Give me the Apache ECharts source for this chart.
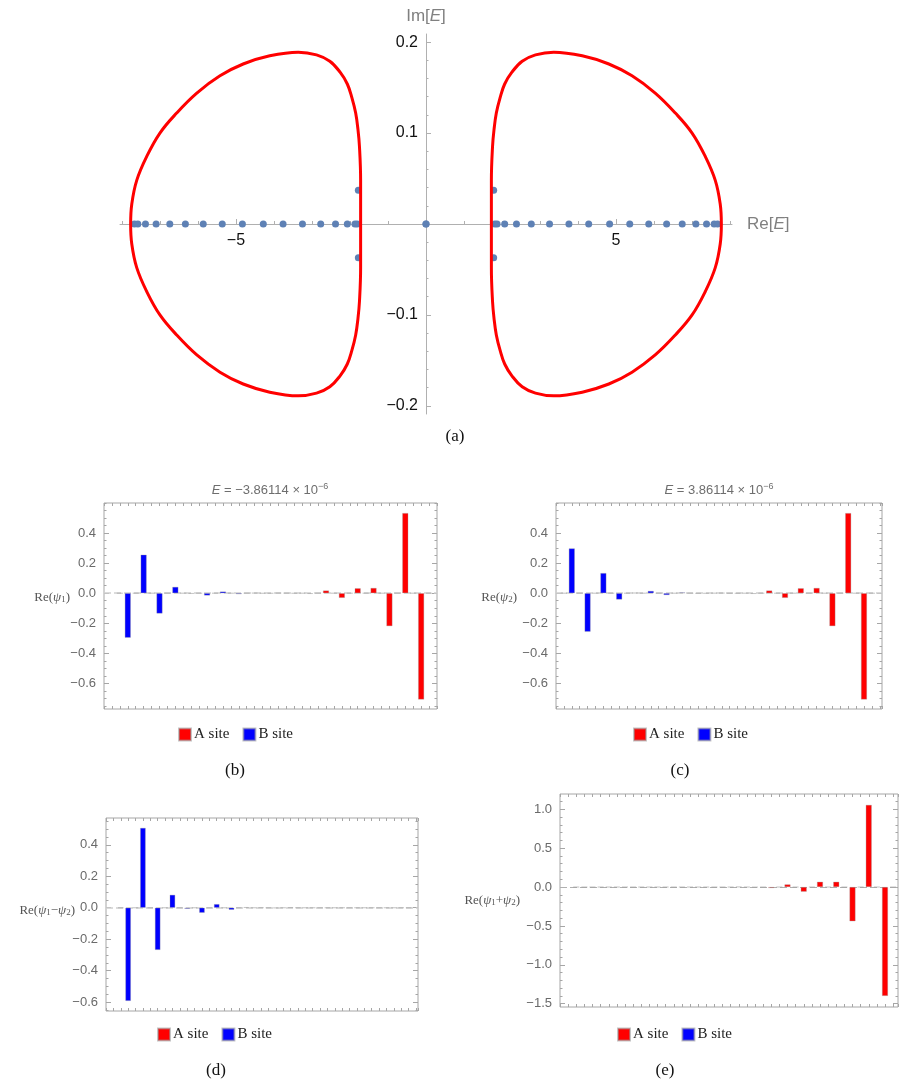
<!DOCTYPE html>
<html>
<head>
<meta charset="utf-8">
<script src="https://cdn.jsdelivr.net/npm/echarts@6/dist/echarts.min.js"></script>
<style>
html,body{margin:0;padding:0;background:#fff;}
#c{width:899px;height:1089px;}
</style>
</head>
<body>
<div id="c"></div>
<script>
// ---------- (a) complex spectrum ----------
// eigenvalues of the open chain: real and imaginary parts
const eigenRe = [-7.67,-7.58,-7.38,-7.10,-6.74,-6.33,-5.86,-5.36,-4.83,-4.28,-3.76,-3.25,-2.77,-2.38,-2.07,-1.87,-1.81,
                 -1.78,-1.78, 0, 0, 1.78, 1.78,
                 1.81,1.87,2.07,2.38,2.77,3.25,3.76,4.28,4.83,5.36,5.86,6.33,6.74,7.10,7.38,7.58,7.67];
const eigenIm = [0,0,0,0,0,0,0,0,0,0,0,0,0,0,0,0,0,
                 0.037,-0.037, 0, 0, 0.037,-0.037,
                 0,0,0,0,0,0,0,0,0,0,0,0,0,0,0,0,0];

// upper halves of the periodic-boundary spectral loops (lower halves are their complex conjugates)
const leftLoopRe  = [-1.72,-1.72,-1.75,-1.79,-1.85,-1.95,-2.07,-2.26,-2.53,-2.88,-3.36,-4.11,-4.81,-5.42,-6.03,-6.56,-7.00,-7.35,-7.61,-7.74,-7.77];
const leftLoopIm  = [0.000,0.048,0.085,0.104,0.122,0.139,0.154,0.167,0.179,0.186,0.189,0.185,0.176,0.163,0.144,0.122,0.100,0.074,0.048,0.022,0.000];
const rightLoopRe = [1.72,1.72,1.75,1.79,1.85,1.95,2.07,2.26,2.53,2.88,3.36,4.11,4.81,5.42,6.03,6.56,7.00,7.35,7.61,7.74,7.77];
const rightLoopIm = [0.000,0.048,0.085,0.104,0.122,0.139,0.154,0.167,0.179,0.186,0.189,0.185,0.176,0.163,0.144,0.122,0.100,0.074,0.048,0.022,0.000];

const ticksRe = [-5, 5];
const ticksIm = [-0.2, -0.1, 0.1, 0.2];

// ---------- (b)-(e) zero-mode amplitudes on unit cells 1..20 ----------
const psi1A = [0,0,0,0,0,0,0,0,0,-0.001,0.002,-0.001,-0.004,0.018,-0.031,0.033,0.035,-0.219,0.533,-0.707];
const psi1B = [-0.296,0.256,-0.135,0.042,-0.003,-0.015,0.011,-0.006,0.002,-0.001,0.001,0,0,0,0,0,0,0,0,0];
const psi2A = [0,0,0,0,0,0,0,0,0,-0.001,0.002,-0.001,-0.004,0.018,-0.031,0.033,0.035,-0.219,0.533,-0.707];
const psi2B = [0.298,-0.256,0.134,-0.042,0.003,0.015,-0.012,0.005,-0.002,0.001,-0.001,0,0,0,0,0,0,0,0,0];
const diffA = [0,0,0,0,0,0,0,0,0,0,0,0,0,0,0,0,0,0,0,0];
const diffB = [-0.592,0.507,-0.268,0.082,-0.006,-0.032,0.023,-0.013,0.003,0.001,-0.002,0.002,0,0,0,0,0,0,0,0];
const sumA  = [0,0,0,0,0,0,0,0,0,0,0.004,-0.002,-0.012,0.034,-0.060,0.068,0.068,-0.440,1.056,-1.400];
const sumB  = [0,0,0,0,0,0,0,0,0,0,0,0,0,0,0,0,0,0,0,0];

const ticksPsi = [-0.6, -0.4, -0.2, 0, 0.2, 0.4];
const ticksSum = [-1.5, -1.0, -0.5, 0, 0.5, 1.0];
const siteNames = ['A site', 'B site'];

// ---------- styling ----------
const SANS = 'Liberation Sans';
const SERIF = 'Liberation Serif';
const FRAME = '#a6a6a6';
const TICK_TEXT = '#6a6a6a';
const RED = '#ff0000';
const BLUE = '#0000ff';
const minus = s => s.replace('-', '\u2212');

function closedLoop(re, im) {
  const pts = re.map((r, i) => [r, im[i]]);
  for (let i = re.length - 2; i >= 0; i--) pts.push([re[i], -im[i]]);
  return pts;
}
function stepValues(min, max, step, skip) {
  const out = [];
  for (let k = Math.ceil(min / step - 1e-9); k * step <= max + 1e-9; k++) {
    const v = +(k * step).toFixed(6);
    if (!skip.some(s => Math.abs(s - v) < 1e-9)) out.push(v);
  }
  return out;
}

const grids = [];
const xAxes = [];
const yAxes = [];
const series = [];
const legends = [];
const graphics = [];

// ---------- panel (a): axes cross at the origin ----------
const aX = [-8.05, 8.05], aY = [-0.209, 0.209];
const aGrid = {left: 120, top: 34, width: 612, height: 380};
// shift the frame-edge axes onto the origin lines
const xShift = -aGrid.height * (0 - aY[0]) / (aY[1] - aY[0]);
const yShift = -aGrid.width * (0 - aX[0]) / (aX[1] - aX[0]);
grids.push(Object.assign({show: false, outerBoundsMode: 'none'}, aGrid));
const axisGray = '#b0b0b0';
xAxes.push({
  type: 'value', gridIndex: 0, min: aX[0], max: aX[1], position: 'bottom', offset: xShift,
  axisLine: {onZero: false, lineStyle: {color: axisGray, width: 1}},
  axisTick: {inside: true, length: 3, customValues: stepValues(-8, 8, 1, [0, -5, 5]), lineStyle: {color: axisGray}},
  axisLabel: {customValues: ticksRe, formatter: v => minus(String(v)), margin: 9,
              fontSize: 16, fontFamily: SANS, color: '#111'},
  splitLine: {show: false},
  name: 'Re[{i|E}]', nameLocation: 'end', nameGap: 15,
  nameTextStyle: {fontSize: 17, fontFamily: SANS, color: '#808080',
                  rich: {i: {fontSize: 17, fontFamily: SANS, color: '#808080', fontStyle: 'italic'}}}
});
xAxes.push({
  type: 'value', gridIndex: 0, min: aX[0], max: aX[1], position: 'bottom', offset: xShift,
  axisLine: {show: false, onZero: false},
  axisTick: {inside: true, length: 5, customValues: ticksRe, lineStyle: {color: axisGray}},
  axisLabel: {show: false}, splitLine: {show: false}
});
yAxes.push({
  type: 'value', gridIndex: 0, min: aY[0], max: aY[1], position: 'left', offset: yShift,
  axisLine: {onZero: false, lineStyle: {color: axisGray, width: 1}},
  axisTick: {inside: true, length: 2.5, customValues: stepValues(-0.2, 0.2, 0.02, [0, -0.2, -0.1, 0.1, 0.2]), lineStyle: {color: axisGray}},
  axisLabel: {customValues: ticksIm, formatter: v => minus(v.toFixed(1)), margin: 8,
              fontSize: 16, fontFamily: SANS, color: '#111'},
  splitLine: {show: false},
  name: 'Im[{i|E}]', nameLocation: 'end', nameGap: 9,
  nameTextStyle: {fontSize: 17, fontFamily: SANS, color: '#808080',
                  rich: {i: {fontSize: 17, fontFamily: SANS, color: '#808080', fontStyle: 'italic'}}}
});
yAxes.push({
  type: 'value', gridIndex: 0, min: aY[0], max: aY[1], position: 'left', offset: yShift,
  axisLine: {show: false, onZero: false},
  axisTick: {inside: true, length: 5, customValues: ticksIm, lineStyle: {color: axisGray}},
  axisLabel: {show: false}, splitLine: {show: false}
});
series.push({
  type: 'scatter', xAxisIndex: 0, yAxisIndex: 0, symbolSize: 7, z: 2,
  itemStyle: {color: '#5e81b5', opacity: 1},
  data: eigenRe.map((r, i) => [r, eigenIm[i]])
});
[closedLoop(leftLoopRe, leftLoopIm), closedLoop(rightLoopRe, rightLoopIm)].forEach(loop => {
  series.push({
    type: 'line', xAxisIndex: 0, yAxisIndex: 0, data: loop, smooth: 0.4, showSymbol: false, z: 3,
    lineStyle: {color: RED, width: 3}, silent: true
  });
});
graphics.push({type: 'text', x: 455, y: 437, style: {text: '(a)', font: '17px ' + SERIF, fill: '#111', align: 'center', verticalAlign: 'middle'}});

// ---------- panels (b)-(e) ----------
const panels = [
  {grid: {left: 104, top: 503, width: 333, height: 206}, x: [-1, 41], y: [-0.77, 0.60],
   majors: ticksPsi, minorStep: 0.05, A: psi1A, B: psi1B, barWidth: 6,
   title: {x: 270, y: 490, text: '{i|E} = \u22123.86114 \u00d7 10{s|\u22126}'},
   ylabel: {x: 70, y: 598, sub: '1'}, legend: {left: 178, top: 727}, caption: {x: 235, y: 771, text: '(b)'},
   zero: {color: '#cfcfcf', width: 1.6}},
  {grid: {left: 556, top: 503, width: 326, height: 206}, x: [0, 41.28], y: [-0.77, 0.60],
   majors: ticksPsi, minorStep: 0.05, A: psi2A, B: psi2B, barWidth: 6,
   title: {x: 719, y: 490, text: '{i|E} = 3.86114 \u00d7 10{s|\u22126}'},
   ylabel: {x: 517, y: 598, sub: '2'}, legend: {left: 633, top: 727}, caption: {x: 680, y: 771, text: '(c)'},
   zero: {color: '#cfcfcf', width: 1.6}},
  {grid: {left: 106, top: 818, width: 312, height: 193}, x: [-1, 41.27], y: [-0.656, 0.57],
   majors: ticksPsi, minorStep: 0.05, A: diffA, B: diffB, barWidth: 5.5,
   title: null,
   ylabel: {x: 75, y: 911, sub: '1', op: '\u2212', sub2: '2'}, legend: {left: 157, top: 1027}, caption: {x: 216, y: 1071, text: '(d)'},
   zero: {color: '#cfcfcf', width: 1.6}},
  {grid: {left: 560, top: 794, width: 338, height: 213}, x: [-1, 40.6], y: [-1.542, 1.196],
   majors: ticksSum, minorStep: 0.1, A: sumA, B: sumB, barWidth: 6,
   title: null,
   ylabel: {x: 520, y: 901, sub: '1', op: '+', sub2: '2'}, legend: {left: 617, top: 1027}, caption: {x: 665, y: 1071, text: '(e)'},
   zero: {color: '#b0b0b0', width: 1}}
];

panels.forEach((p, k) => {
  const gi = k + 1;
  grids.push(Object.assign({show: true, borderColor: FRAME, borderWidth: 1, backgroundColor: 'transparent', outerBoundsMode: 'none'}, p.grid));

  const xBase = {type: 'value', gridIndex: gi, min: p.x[0], max: p.x[1], interval: 1,
                 axisLine: {show: false, onZero: false}, axisLabel: {show: false}, splitLine: {show: false},
                 axisTick: {inside: true, length: 3, lineStyle: {color: FRAME}}};
  const xBottom = xAxes.length;
  xAxes.push(Object.assign({position: 'bottom'}, xBase));
  xAxes.push(Object.assign({position: 'top'}, xBase));

  const minors = stepValues(p.y[0], p.y[1], p.minorStep, p.majors);
  const yBase = {type: 'value', gridIndex: gi, min: p.y[0], max: p.y[1],
                 axisLine: {show: false, onZero: false}, splitLine: {show: false}};
  const yLeft = yAxes.length;
  yAxes.push(Object.assign({}, yBase, {position: 'left',
    axisTick: {inside: true, length: 5, customValues: p.majors, lineStyle: {color: FRAME}},
    axisLabel: {customValues: p.majors, formatter: v => minus(v.toFixed(1)), margin: 8,
                fontSize: 13, fontFamily: SANS, color: TICK_TEXT}}));
  yAxes.push(Object.assign({}, yBase, {position: 'left',
    axisTick: {inside: true, length: 2.5, customValues: minors, lineStyle: {color: FRAME}}, axisLabel: {show: false}}));
  yAxes.push(Object.assign({}, yBase, {position: 'right',
    axisTick: {inside: true, length: 5, customValues: p.majors, lineStyle: {color: FRAME}}, axisLabel: {show: false}}));
  yAxes.push(Object.assign({}, yBase, {position: 'right',
    axisTick: {inside: true, length: 2.5, customValues: minors, lineStyle: {color: FRAME}}, axisLabel: {show: false}}));

  const edge = {borderColor: 'rgba(150,150,150,0.55)', borderWidth: 0.6};
  series.push({
    name: siteNames[0], type: 'bar', xAxisIndex: xBottom, yAxisIndex: yLeft, barWidth: p.barWidth, barGap: '-100%',
    itemStyle: Object.assign({color: RED}, edge),
    data: p.A.map((v, i) => [2 * i + 1, v]),
    markLine: {silent: true, symbol: 'none', label: {show: false}, z: 1,
               lineStyle: {color: p.zero.color, width: p.zero.width, type: [7, 3]},
               data: [{yAxis: 0}]}
  });
  series.push({
    name: siteNames[1], type: 'bar', xAxisIndex: xBottom, yAxisIndex: yLeft, barWidth: p.barWidth, barGap: '-100%',
    itemStyle: Object.assign({color: BLUE}, edge),
    data: p.B.map((v, i) => [2 * i + 2, v])
  });

  legends.push({
    data: siteNames, left: p.legend.left, top: p.legend.top, orient: 'horizontal', padding: 0,
    icon: 'rect', itemWidth: 12, itemHeight: 12, itemGap: 13, selectedMode: false,
    textStyle: {fontFamily: SERIF, fontSize: 15, color: '#222', padding: [0, 0, 0, -2]}
  });

  if (p.title) {
    graphics.push({type: 'text', x: p.title.x, y: p.title.y, style: {
      text: p.title.text, align: 'center', verticalAlign: 'middle',
      font: '13px ' + SANS, fill: '#6e6e6e',
      rich: {i: {font: 'italic 13px ' + SANS, fill: '#6e6e6e'},
             s: {font: '9px ' + SANS, fill: '#6e6e6e', verticalAlign: 'top', padding: [0, 0, 6, 0]}}}});
  }

  const yl = p.ylabel;
  const labelText = yl.op
    ? '{n|Re(}{p|\u03c8}{s|' + yl.sub + '}{n|' + yl.op + '}{p|\u03c8}{s|' + yl.sub2 + '}{n|)}'
    : '{n|Re(}{p|\u03c8}{s|' + yl.sub + '}{n|)}';
  graphics.push({type: 'text', x: yl.x, y: yl.y, style: {
    text: labelText, align: 'right', verticalAlign: 'middle', fill: '#555', font: '13px ' + SERIF,
    rich: {n: {font: '13px ' + SERIF, fill: '#555'},
           p: {font: 'italic 13px ' + SERIF, fill: '#555'},
           s: {font: '9px ' + SERIF, fill: '#555', verticalAlign: 'bottom', padding: [4, 0, 0, 0]}}}});

  graphics.push({type: 'text', x: p.caption.x, y: p.caption.y, style: {
    text: p.caption.text, font: '17px ' + SERIF, fill: '#111', align: 'center', verticalAlign: 'middle'}});
});

const chart = echarts.init(document.getElementById('c'), null, {renderer: 'canvas', width: 899, height: 1089});
chart.setOption({
  animation: false,
  backgroundColor: '#ffffff',
  grid: grids,
  xAxis: xAxes,
  yAxis: yAxes,
  legend: legends,
  series: series,
  graphic: graphics
});
</script>
</body>
</html>
